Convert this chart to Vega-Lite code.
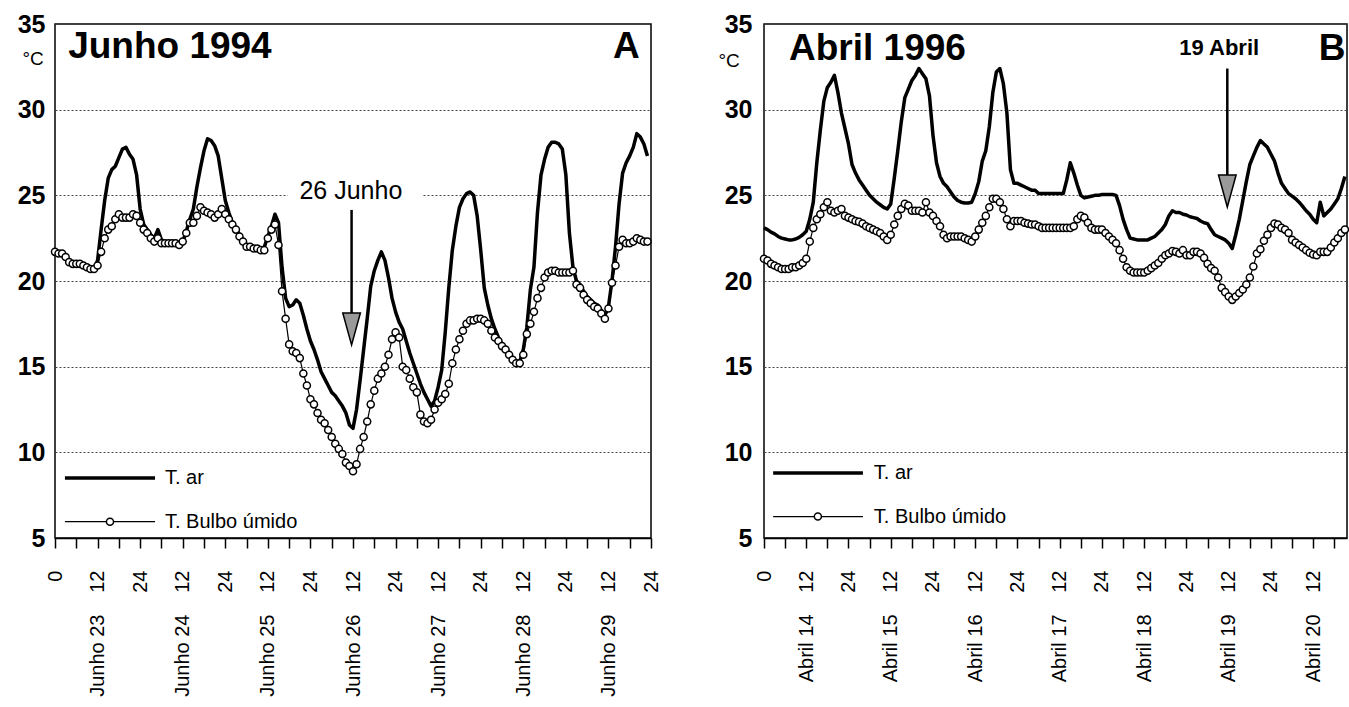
{
  "$schema": "https://vega.github.io/schema/vega-lite/v6.json",
  "padding": {"left": 10, "top": 11, "right": 0, "bottom": 0},
  "spacing": 55,
  "datasets": {
    "junho": [
      {"h":0,"ar":21.7,"bu":21.7},{"h":1,"ar":21.6,"bu":21.6},{"h":2,"ar":21.6,"bu":21.6},{"h":3,"ar":21.4,"bu":21.4},{"h":4,"ar":21.1,"bu":21.1},{"h":5,"ar":21.0,"bu":21.0},{"h":6,"ar":21.0,"bu":21.0},{"h":7,"ar":21.0,"bu":21.0},{"h":8,"ar":20.9,"bu":20.9},{"h":9,"ar":20.8,"bu":20.8},{"h":10,"ar":20.7,"bu":20.7},{"h":11,"ar":20.7,"bu":20.7},
      {"h":12,"ar":21.2,"bu":20.9},{"h":13,"ar":23.0,"bu":21.7},{"h":14,"ar":24.7,"bu":22.5},{"h":15,"ar":26.0,"bu":23.0},{"h":16,"ar":26.5,"bu":23.2},{"h":17,"ar":26.7,"bu":23.6},{"h":18,"ar":27.2,"bu":23.9},{"h":19,"ar":27.7,"bu":23.7},{"h":20,"ar":27.8,"bu":23.7},{"h":21,"ar":27.4,"bu":23.7},{"h":22,"ar":27.1,"bu":23.9},{"h":23,"ar":26.2,"bu":23.8},
      {"h":24,"ar":24.2,"bu":23.4},{"h":25,"ar":23.3,"bu":23.0},{"h":26,"ar":23.0,"bu":22.8},{"h":27,"ar":22.7,"bu":22.5},{"h":28,"ar":22.5,"bu":22.3},{"h":29,"ar":23.0,"bu":22.5},{"h":30,"ar":22.4,"bu":22.2},{"h":31,"ar":22.3,"bu":22.2},{"h":32,"ar":22.2,"bu":22.2},{"h":33,"ar":22.2,"bu":22.2},{"h":34,"ar":22.2,"bu":22.2},{"h":35,"ar":22.2,"bu":22.1},
      {"h":36,"ar":22.3,"bu":22.3},{"h":37,"ar":22.9,"bu":22.8},{"h":38,"ar":23.6,"bu":23.4},{"h":39,"ar":24.2,"bu":23.4},{"h":40,"ar":25.5,"bu":23.8},{"h":41,"ar":26.6,"bu":24.3},{"h":42,"ar":27.6,"bu":24.1},{"h":43,"ar":28.3,"bu":24.0},{"h":44,"ar":28.2,"bu":23.9},{"h":45,"ar":27.9,"bu":23.7},{"h":46,"ar":27.3,"bu":23.9},{"h":47,"ar":26.0,"bu":24.2},
      {"h":48,"ar":24.7,"bu":23.9},{"h":49,"ar":24.0,"bu":23.6},{"h":50,"ar":23.4,"bu":23.3},{"h":51,"ar":23.1,"bu":23.0},{"h":52,"ar":22.7,"bu":22.6},{"h":53,"ar":22.4,"bu":22.3},{"h":54,"ar":22.1,"bu":22.0},{"h":55,"ar":22.0,"bu":22.0},{"h":56,"ar":21.9,"bu":21.9},{"h":57,"ar":21.9,"bu":21.9},{"h":58,"ar":21.9,"bu":21.8},{"h":59,"ar":22.0,"bu":21.8},
      {"h":60,"ar":22.6,"bu":22.5},{"h":61,"ar":23.2,"bu":23.0},{"h":62,"ar":23.9,"bu":23.3},{"h":63,"ar":23.4,"bu":22.1},{"h":64,"ar":20.8,"bu":19.4},{"h":65,"ar":19.0,"bu":17.8},{"h":66,"ar":18.5,"bu":16.3},{"h":67,"ar":18.6,"bu":15.9},{"h":68,"ar":18.9,"bu":15.8},{"h":69,"ar":18.7,"bu":15.5},{"h":70,"ar":18.0,"bu":14.6},{"h":71,"ar":17.2,"bu":13.9},
      {"h":72,"ar":16.5,"bu":13.1},{"h":73,"ar":16.0,"bu":12.8},{"h":74,"ar":15.4,"bu":12.3},{"h":75,"ar":14.7,"bu":11.9},{"h":76,"ar":14.3,"bu":11.7},{"h":77,"ar":13.9,"bu":11.3},{"h":78,"ar":13.5,"bu":10.9},{"h":79,"ar":13.3,"bu":10.5},{"h":80,"ar":13.0,"bu":10.2},{"h":81,"ar":12.7,"bu":9.9},{"h":82,"ar":12.3,"bu":9.4},{"h":83,"ar":11.6,"bu":9.2},
      {"h":84,"ar":11.4,"bu":8.9},{"h":85,"ar":12.5,"bu":9.3},{"h":86,"ar":14.2,"bu":10.2},{"h":87,"ar":16.0,"bu":10.9},{"h":88,"ar":17.8,"bu":11.8},{"h":89,"ar":19.7,"bu":12.8},{"h":90,"ar":20.6,"bu":13.6},{"h":91,"ar":21.2,"bu":14.3},{"h":92,"ar":21.7,"bu":14.6},{"h":93,"ar":21.2,"bu":15.0},{"h":94,"ar":20.2,"bu":15.7},{"h":95,"ar":19.0,"bu":16.6},
      {"h":96,"ar":18.2,"bu":17.0},{"h":97,"ar":17.6,"bu":16.7},{"h":98,"ar":17.2,"bu":15.0},{"h":99,"ar":16.5,"bu":14.8},{"h":100,"ar":15.8,"bu":14.3},{"h":101,"ar":15.2,"bu":13.8},{"h":102,"ar":14.6,"bu":13.5},{"h":103,"ar":14.0,"bu":12.2},{"h":104,"ar":13.5,"bu":11.8},{"h":105,"ar":13.1,"bu":11.7},{"h":106,"ar":12.7,"bu":11.9},{"h":107,"ar":13.0,"bu":12.5},
      {"h":108,"ar":13.8,"bu":12.9},{"h":109,"ar":14.8,"bu":13.1},{"h":110,"ar":17.0,"bu":13.4},{"h":111,"ar":19.6,"bu":14.0},{"h":112,"ar":21.8,"bu":15.2},{"h":113,"ar":23.2,"bu":16.0},{"h":114,"ar":24.3,"bu":16.6},{"h":115,"ar":24.8,"bu":17.1},{"h":116,"ar":25.1,"bu":17.5},{"h":117,"ar":25.2,"bu":17.7},{"h":118,"ar":25.0,"bu":17.7},{"h":119,"ar":23.8,"bu":17.8},
      {"h":120,"ar":21.8,"bu":17.8},{"h":121,"ar":19.6,"bu":17.7},{"h":122,"ar":18.6,"bu":17.5},{"h":123,"ar":17.8,"bu":17.1},{"h":124,"ar":17.2,"bu":16.7},{"h":125,"ar":16.7,"bu":16.5},{"h":126,"ar":16.3,"bu":16.2},{"h":127,"ar":16.1,"bu":16.0},{"h":128,"ar":15.8,"bu":15.7},{"h":129,"ar":15.5,"bu":15.4},{"h":130,"ar":15.3,"bu":15.2},{"h":131,"ar":15.3,"bu":15.2},
      {"h":132,"ar":16.0,"bu":15.7},{"h":133,"ar":17.3,"bu":16.9},{"h":134,"ar":19.5,"bu":17.5},{"h":135,"ar":20.8,"bu":18.2},{"h":136,"ar":24.0,"bu":19.0},{"h":137,"ar":26.2,"bu":19.6},{"h":138,"ar":27.1,"bu":20.2},{"h":139,"ar":27.8,"bu":20.5},{"h":140,"ar":28.1,"bu":20.6},{"h":141,"ar":28.1,"bu":20.6},{"h":142,"ar":28.0,"bu":20.5},{"h":143,"ar":27.7,"bu":20.5},
      {"h":144,"ar":26.2,"bu":20.5},{"h":145,"ar":22.8,"bu":20.5},{"h":146,"ar":20.8,"bu":20.6},{"h":147,"ar":20.0,"bu":19.8},{"h":148,"ar":19.8,"bu":19.6},{"h":149,"ar":19.4,"bu":19.2},{"h":150,"ar":19.1,"bu":18.9},{"h":151,"ar":18.9,"bu":18.7},{"h":152,"ar":18.7,"bu":18.5},{"h":153,"ar":18.6,"bu":18.4},{"h":154,"ar":18.3,"bu":18.1},{"h":155,"ar":18.0,"bu":17.8},
      {"h":156,"ar":18.5,"bu":18.4},{"h":157,"ar":20.0,"bu":19.9},{"h":158,"ar":22.0,"bu":20.9},{"h":159,"ar":24.5,"bu":22.0},{"h":160,"ar":26.3,"bu":22.4},{"h":161,"ar":26.9,"bu":22.2},{"h":162,"ar":27.3,"bu":22.2},{"h":163,"ar":27.8,"bu":22.3},{"h":164,"ar":28.6,"bu":22.5},{"h":165,"ar":28.4,"bu":22.4},{"h":166,"ar":28.0,"bu":22.3},{"h":167,"ar":27.3,"bu":22.3}
    ],
    "abril": [
      {"h":0,"ar":23.1,"bu":21.3},{"h":1,"ar":23.0,"bu":21.2},{"h":2,"ar":22.85,"bu":21.0},{"h":3,"ar":22.75,"bu":20.9},{"h":4,"ar":22.6,"bu":20.8},{"h":5,"ar":22.5,"bu":20.7},{"h":6,"ar":22.45,"bu":20.7},{"h":7,"ar":22.4,"bu":20.7},{"h":8,"ar":22.4,"bu":20.8},{"h":9,"ar":22.45,"bu":20.8},{"h":10,"ar":22.55,"bu":20.9},{"h":11,"ar":22.7,"bu":21.05},
      {"h":12,"ar":22.9,"bu":21.3},{"h":13,"ar":23.6,"bu":22.3},{"h":14,"ar":24.6,"bu":23.1},{"h":15,"ar":26.9,"bu":23.6},{"h":16,"ar":28.8,"bu":23.9},{"h":17,"ar":30.5,"bu":24.3},{"h":18,"ar":31.3,"bu":24.6},{"h":19,"ar":31.6,"bu":24.1},{"h":20,"ar":32.0,"bu":24.0},{"h":21,"ar":31.0,"bu":24.1},{"h":22,"ar":29.8,"bu":24.2},{"h":23,"ar":28.9,"bu":23.8},
      {"h":24,"ar":28.0,"bu":23.7},{"h":25,"ar":26.8,"bu":23.6},{"h":26,"ar":26.3,"bu":23.5},{"h":27,"ar":25.9,"bu":23.45},{"h":28,"ar":25.6,"bu":23.35},{"h":29,"ar":25.3,"bu":23.2},{"h":30,"ar":25.0,"bu":23.1},{"h":31,"ar":24.8,"bu":23.0},{"h":32,"ar":24.6,"bu":22.9},{"h":33,"ar":24.45,"bu":22.8},{"h":34,"ar":24.3,"bu":22.6},{"h":35,"ar":24.2,"bu":22.4},
      {"h":36,"ar":24.5,"bu":22.7},{"h":37,"ar":26.0,"bu":23.3},{"h":38,"ar":27.6,"bu":23.8},{"h":39,"ar":29.3,"bu":24.2},{"h":40,"ar":30.7,"bu":24.5},{"h":41,"ar":31.2,"bu":24.4},{"h":42,"ar":31.7,"bu":24.1},{"h":43,"ar":32.0,"bu":24.1},{"h":44,"ar":32.4,"bu":24.1},{"h":45,"ar":32.1,"bu":24.0},{"h":46,"ar":31.8,"bu":24.6},{"h":47,"ar":30.8,"bu":24.0},
      {"h":48,"ar":28.5,"bu":23.8},{"h":49,"ar":26.9,"bu":23.5},{"h":50,"ar":26.1,"bu":23.2},{"h":51,"ar":25.7,"bu":22.7},{"h":52,"ar":25.5,"bu":22.5},{"h":53,"ar":25.2,"bu":22.6},{"h":54,"ar":24.9,"bu":22.6},{"h":55,"ar":24.7,"bu":22.6},{"h":56,"ar":24.6,"bu":22.6},{"h":57,"ar":24.55,"bu":22.5},{"h":58,"ar":24.55,"bu":22.4},{"h":59,"ar":24.6,"bu":22.3},
      {"h":60,"ar":25.1,"bu":22.6},{"h":61,"ar":25.8,"bu":23.0},{"h":62,"ar":27.0,"bu":23.4},{"h":63,"ar":27.6,"bu":23.8},{"h":64,"ar":29.0,"bu":24.3},{"h":65,"ar":31.0,"bu":24.8},{"h":66,"ar":32.2,"bu":24.8},{"h":67,"ar":32.4,"bu":24.6},{"h":68,"ar":31.5,"bu":24.2},{"h":69,"ar":29.8,"bu":23.6},{"h":70,"ar":26.5,"bu":23.2},{"h":71,"ar":25.7,"bu":23.5},
      {"h":72,"ar":25.7,"bu":23.5},{"h":73,"ar":25.6,"bu":23.5},{"h":74,"ar":25.5,"bu":23.4},{"h":75,"ar":25.4,"bu":23.35},{"h":76,"ar":25.3,"bu":23.3},{"h":77,"ar":25.3,"bu":23.3},{"h":78,"ar":25.1,"bu":23.2},{"h":79,"ar":25.1,"bu":23.1},{"h":80,"ar":25.1,"bu":23.1},{"h":81,"ar":25.1,"bu":23.1},{"h":82,"ar":25.1,"bu":23.1},{"h":83,"ar":25.1,"bu":23.1},
      {"h":84,"ar":25.1,"bu":23.1},{"h":85,"ar":25.1,"bu":23.1},{"h":86,"ar":25.9,"bu":23.1},{"h":87,"ar":26.9,"bu":23.1},{"h":88,"ar":26.3,"bu":23.2},{"h":89,"ar":25.6,"bu":23.6},{"h":90,"ar":25.0,"bu":23.8},{"h":91,"ar":24.85,"bu":23.7},{"h":92,"ar":24.9,"bu":23.4},{"h":93,"ar":24.95,"bu":23.1},{"h":94,"ar":25.0,"bu":23.0},{"h":95,"ar":25.0,"bu":23.0},
      {"h":96,"ar":25.05,"bu":23.0},{"h":97,"ar":25.05,"bu":22.8},{"h":98,"ar":25.05,"bu":22.6},{"h":99,"ar":25.05,"bu":22.4},{"h":100,"ar":25.0,"bu":22.2},{"h":101,"ar":24.4,"bu":21.8},{"h":102,"ar":23.6,"bu":21.3},{"h":103,"ar":23.0,"bu":20.8},{"h":104,"ar":22.5,"bu":20.6},{"h":105,"ar":22.45,"bu":20.5},{"h":106,"ar":22.4,"bu":20.5},{"h":107,"ar":22.4,"bu":20.5},
      {"h":108,"ar":22.4,"bu":20.5},{"h":109,"ar":22.4,"bu":20.6},{"h":110,"ar":22.5,"bu":20.75},{"h":111,"ar":22.6,"bu":20.9},{"h":112,"ar":22.8,"bu":21.05},{"h":113,"ar":23.0,"bu":21.3},{"h":114,"ar":23.3,"bu":21.5},{"h":115,"ar":23.8,"bu":21.6},{"h":116,"ar":24.1,"bu":21.75},{"h":117,"ar":24.0,"bu":21.7},{"h":118,"ar":24.0,"bu":21.6},{"h":119,"ar":23.9,"bu":21.8},
      {"h":120,"ar":23.85,"bu":21.5},{"h":121,"ar":23.75,"bu":21.5},{"h":122,"ar":23.7,"bu":21.7},{"h":123,"ar":23.65,"bu":21.7},{"h":124,"ar":23.5,"bu":21.6},{"h":125,"ar":23.4,"bu":21.35},{"h":126,"ar":23.35,"bu":21.0},{"h":127,"ar":23.0,"bu":20.75},{"h":128,"ar":22.7,"bu":20.6},{"h":129,"ar":22.6,"bu":20.2},{"h":130,"ar":22.5,"bu":19.6},{"h":131,"ar":22.4,"bu":19.35},
      {"h":132,"ar":22.2,"bu":19.1},{"h":133,"ar":21.9,"bu":18.9},{"h":134,"ar":22.7,"bu":19.1},{"h":135,"ar":23.6,"bu":19.3},{"h":136,"ar":24.7,"bu":19.5},{"h":137,"ar":25.8,"bu":19.8},{"h":138,"ar":26.8,"bu":20.2},{"h":139,"ar":27.3,"bu":20.85},{"h":140,"ar":27.8,"bu":21.6},{"h":141,"ar":28.2,"bu":21.85},{"h":142,"ar":28.0,"bu":22.35},{"h":143,"ar":27.8,"bu":22.7},
      {"h":144,"ar":27.4,"bu":23.1},{"h":145,"ar":27.0,"bu":23.35},{"h":146,"ar":26.3,"bu":23.3},{"h":147,"ar":25.7,"bu":23.1},{"h":148,"ar":25.4,"bu":23.0},{"h":149,"ar":25.1,"bu":22.8},{"h":150,"ar":24.95,"bu":22.4},{"h":151,"ar":24.8,"bu":22.25},{"h":152,"ar":24.6,"bu":22.1},{"h":153,"ar":24.35,"bu":21.95},{"h":154,"ar":24.1,"bu":21.8},{"h":155,"ar":23.9,"bu":21.65},
      {"h":156,"ar":23.6,"bu":21.55},{"h":157,"ar":23.4,"bu":21.5},{"h":158,"ar":24.6,"bu":21.7},{"h":159,"ar":23.8,"bu":21.7},{"h":160,"ar":24.0,"bu":21.7},{"h":161,"ar":24.2,"bu":21.95},{"h":162,"ar":24.5,"bu":22.25},{"h":163,"ar":24.8,"bu":22.5},{"h":164,"ar":25.4,"bu":22.8},{"h":165,"ar":26.1,"bu":23.0}
    ]
  },
  "hconcat": [
    {
      "width": 596,
      "height": 514,
      "resolve": {"axis": {"x": "independent"}},
      "layer": [
        {
          "data": {"name": "junho"},
          "transform": [{"fold": ["ar", "bu"], "as": ["serie", "temp"]}],
          "mark": {"type": "line", "color": "black", "strokeJoin": "round"},
          "encoding": {
            "x": {"field": "h", "type": "quantitative", "scale": {"domain": [0, 168], "nice": false, "zero": false},
              "axis": {"orient": "bottom", "values": [0,6,12,18,24,30,36,42,48,54,60,66,72,78,84,90,96,102,108,114,120,126,132,138,144,150,156,162,168],
                "labelExpr": "datum.value == 0 ? '0' : (datum.value % 24 == 0 ? '24' : (datum.value % 12 == 0 ? '12' : ''))",
                "labelAngle": -90, "labelFont": "Liberation Sans", "labelFontSize": 20, "labelColor": "black", "labelPadding": 22,
                "tickSize": 10, "tickWidth": 1.5, "tickColor": "black", "domain": true, "domainWidth": 1.5, "domainColor": "black",
                "grid": false, "title": null, "labelFlush": false, "labelOverlap": false, "labelBound": false}},
            "y": {"field": "temp", "type": "quantitative", "scale": {"domain": [5, 35], "nice": false, "zero": false},
              "axis": {"values": [5,10,15,20,25,30,35], "grid": true, "gridColor": "#444", "gridDash": [2, 2], "gridWidth": 1,
                "ticks": false, "domain": false, "labelFont": "Liberation Sans", "labelFontSize": 25, "labelFontWeight": "bold", "labelColor": "black",
                "labelPadding": 10, "labelFlush": false, "minExtent": 44, "maxExtent": 44,
                "title": "°C", "titleAngle": 0, "titleAlign": "left", "titleBaseline": "middle", "titleX": -33, "titleY": 34,
                "titleFont": "Liberation Sans", "titleFontSize": 19, "titleFontWeight": "normal", "titleColor": "black"}},
            "strokeWidth": {"field": "serie", "type": "nominal", "scale": {"domain": ["ar", "bu"], "range": [3.5, 1.2]}, "legend": null}
          }
        },
        {
          "data": {"name": "junho"},
          "transform": [{"fold": ["ar", "bu"], "as": ["serie", "temp"]}, {"filter": "datum.serie == 'bu'"}],
          "mark": {"type": "point", "shape": "circle", "filled": true, "fill": "white", "stroke": "black", "strokeWidth": 1.5, "size": 50, "opacity": 1},
          "encoding": {
            "x": {"field": "h", "type": "quantitative",
              "axis": {"orient": "bottom", "values": [12,36,60,84,108,132,156],
                "labelExpr": "'Junho ' + (23 + floor(datum.value / 24))",
                "labelAngle": -90, "labelFont": "Liberation Sans", "labelFontSize": 20, "labelColor": "black", "labelPadding": 76,
                "ticks": false, "domain": false, "grid": false, "title": null, "labelFlush": false, "labelOverlap": false, "labelBound": false}},
            "y": {"field": "temp", "type": "quantitative"}
          }
        },
        {
          "data": {"values": [{}]},
          "mark": {"type": "rect", "color": "white"},
          "encoding": {"x": {"datum": 65.6, "axis": null}, "x2": {"datum": 103.7}, "y": {"datum": 24.55}, "y2": {"datum": 25.45}}
        },
        {
          "data": {"values": [{}]},
          "mark": {"type": "text", "text": "26 Junho", "font": "Liberation Sans", "fontSize": 25, "align": "center", "baseline": "alphabetic", "color": "black"},
          "encoding": {"x": {"datum": 83.4, "axis": null}, "y": {"datum": 24.8}}
        },
        {
          "data": {"values": [{}]},
          "mark": {"type": "rule", "color": "black", "strokeWidth": 2.5},
          "encoding": {"x": {"datum": 83.6, "axis": null}, "y": {"datum": 24.15}, "y2": {"datum": 18.0}}
        },
        {
          "data": {"values": [{}]},
          "mark": {"type": "point", "shape": "M-0.55,-1L0.55,-1L0,1Z", "size": 1024, "filled": true, "fill": "#9a9a9a", "stroke": "black", "strokeWidth": 1.5, "opacity": 1},
          "encoding": {"x": {"datum": 83.6, "axis": null}, "y": {"datum": 17.2}}
        },
        {
          "data": {"values": [{}]},
          "mark": {"type": "text", "text": "Junho 1994", "font": "Liberation Sans", "fontSize": 37, "fontWeight": "bold", "align": "left", "baseline": "alphabetic", "color": "black"},
          "encoding": {"x": {"datum": 3.7, "axis": null}, "y": {"datum": 33.0}}
        },
        {
          "data": {"values": [{}]},
          "mark": {"type": "text", "text": "A", "font": "Liberation Sans", "fontSize": 37, "fontWeight": "bold", "align": "right", "baseline": "alphabetic", "color": "black"},
          "encoding": {"x": {"datum": 164.8, "axis": null}, "y": {"datum": 33.0}}
        },
        {
          "data": {"values": [{}]},
          "mark": {"type": "rule", "color": "black", "strokeWidth": 3.5},
          "encoding": {"x": {"datum": 2.8, "axis": null}, "x2": {"datum": 28.2}, "y": {"datum": 8.5}}
        },
        {
          "data": {"values": [{}]},
          "mark": {"type": "rule", "color": "black", "strokeWidth": 1.2},
          "encoding": {"x": {"datum": 2.8, "axis": null}, "x2": {"datum": 28.2}, "y": {"datum": 5.95}}
        },
        {
          "data": {"values": [{}]},
          "mark": {"type": "point", "shape": "circle", "filled": true, "fill": "white", "stroke": "black", "strokeWidth": 1.5, "size": 50, "opacity": 1},
          "encoding": {"x": {"datum": 15.5, "axis": null}, "y": {"datum": 5.95}}
        },
        {
          "data": {"values": [{}]},
          "mark": {"type": "text", "text": "T. ar", "font": "Liberation Sans", "fontSize": 20, "align": "left", "baseline": "middle", "color": "black"},
          "encoding": {"x": {"datum": 31, "axis": null}, "y": {"datum": 8.5}}
        },
        {
          "data": {"values": [{}]},
          "mark": {"type": "text", "text": "T. Bulbo úmido", "font": "Liberation Sans", "fontSize": 20, "align": "left", "baseline": "middle", "color": "black"},
          "encoding": {"x": {"datum": 31, "axis": null}, "y": {"datum": 5.95}}
        }
      ]
    },
    {
      "width": 583,
      "height": 514,
      "resolve": {"axis": {"x": "independent"}},
      "layer": [
        {
          "data": {"name": "abril"},
          "transform": [{"fold": ["ar", "bu"], "as": ["serie", "temp"]}],
          "mark": {"type": "line", "color": "black", "strokeJoin": "round"},
          "encoding": {
            "x": {"field": "h", "type": "quantitative", "scale": {"domain": [0, 165.6], "nice": false, "zero": false},
              "axis": {"orient": "bottom", "values": [0,6,12,18,24,30,36,42,48,54,60,66,72,78,84,90,96,102,108,114,120,126,132,138,144,150,156,162],
                "labelExpr": "datum.value == 0 ? '0' : (datum.value % 24 == 0 ? '24' : (datum.value % 12 == 0 ? '12' : ''))",
                "labelAngle": -90, "labelFont": "Liberation Sans", "labelFontSize": 20, "labelColor": "black", "labelPadding": 22,
                "tickSize": 10, "tickWidth": 1.5, "tickColor": "black", "domain": true, "domainWidth": 1.5, "domainColor": "black",
                "grid": false, "title": null, "labelFlush": false, "labelOverlap": false, "labelBound": false}},
            "y": {"field": "temp", "type": "quantitative", "scale": {"domain": [5, 35], "nice": false, "zero": false},
              "axis": {"values": [5,10,15,20,25,30,35], "grid": true, "gridColor": "#444", "gridDash": [2, 2], "gridWidth": 1,
                "ticks": false, "domain": false, "labelFont": "Liberation Sans", "labelFontSize": 25, "labelFontWeight": "bold", "labelColor": "black",
                "labelPadding": 12, "labelFlush": false, "minExtent": 46, "maxExtent": 46,
                "title": "°C", "titleAngle": 0, "titleAlign": "left", "titleBaseline": "middle", "titleX": -46, "titleY": 36,
                "titleFont": "Liberation Sans", "titleFontSize": 19, "titleFontWeight": "normal", "titleColor": "black"}},
            "strokeWidth": {"field": "serie", "type": "nominal", "scale": {"domain": ["ar", "bu"], "range": [3.5, 1.2]}, "legend": null}
          }
        },
        {
          "data": {"name": "abril"},
          "transform": [{"fold": ["ar", "bu"], "as": ["serie", "temp"]}, {"filter": "datum.serie == 'bu'"}],
          "mark": {"type": "point", "shape": "circle", "filled": true, "fill": "white", "stroke": "black", "strokeWidth": 1.5, "size": 50, "opacity": 1},
          "encoding": {
            "x": {"field": "h", "type": "quantitative",
              "axis": {"orient": "bottom", "values": [12,36,60,84,108,132,156],
                "labelExpr": "'Abril ' + (14 + floor(datum.value / 24))",
                "labelAngle": -90, "labelFont": "Liberation Sans", "labelFontSize": 20, "labelColor": "black", "labelPadding": 76,
                "ticks": false, "domain": false, "grid": false, "title": null, "labelFlush": false, "labelOverlap": false, "labelBound": false}},
            "y": {"field": "temp", "type": "quantitative"}
          }
        },
        {
          "data": {"values": [{}]},
          "mark": {"type": "text", "text": "19 Abril", "font": "Liberation Sans", "fontSize": 22, "fontWeight": "bold", "align": "center", "baseline": "alphabetic", "color": "black"},
          "encoding": {"x": {"datum": 129.3, "axis": null}, "y": {"datum": 33.2}}
        },
        {
          "data": {"values": [{}]},
          "mark": {"type": "rule", "color": "black", "strokeWidth": 2.5},
          "encoding": {"x": {"datum": 131.6, "axis": null}, "y": {"datum": 32.4}, "y2": {"datum": 26.0}}
        },
        {
          "data": {"values": [{}]},
          "mark": {"type": "point", "shape": "M-0.55,-1L0.55,-1L0,1Z", "size": 1024, "filled": true, "fill": "#9a9a9a", "stroke": "black", "strokeWidth": 1.5, "opacity": 1},
          "encoding": {"x": {"datum": 131.6, "axis": null}, "y": {"datum": 25.25}}
        },
        {
          "data": {"values": [{}]},
          "mark": {"type": "text", "text": "Abril 1996", "font": "Liberation Sans", "fontSize": 37, "fontWeight": "bold", "align": "left", "baseline": "alphabetic", "color": "black"},
          "encoding": {"x": {"datum": 7.1, "axis": null}, "y": {"datum": 32.9}}
        },
        {
          "data": {"values": [{}]},
          "mark": {"type": "text", "text": "B", "font": "Liberation Sans", "fontSize": 37, "fontWeight": "bold", "align": "left", "baseline": "alphabetic", "color": "black"},
          "encoding": {"x": {"datum": 157.6, "axis": null}, "y": {"datum": 32.9}}
        },
        {
          "data": {"values": [{}]},
          "mark": {"type": "rule", "color": "black", "strokeWidth": 3.5},
          "encoding": {"x": {"datum": 2.6, "axis": null}, "x2": {"datum": 28.1}, "y": {"datum": 8.8}}
        },
        {
          "data": {"values": [{}]},
          "mark": {"type": "rule", "color": "black", "strokeWidth": 1.2},
          "encoding": {"x": {"datum": 2.6, "axis": null}, "x2": {"datum": 28.1}, "y": {"datum": 6.25}}
        },
        {
          "data": {"values": [{}]},
          "mark": {"type": "point", "shape": "circle", "filled": true, "fill": "white", "stroke": "black", "strokeWidth": 1.5, "size": 50, "opacity": 1},
          "encoding": {"x": {"datum": 15.3, "axis": null}, "y": {"datum": 6.25}}
        },
        {
          "data": {"values": [{}]},
          "mark": {"type": "text", "text": "T. ar", "font": "Liberation Sans", "fontSize": 20, "align": "left", "baseline": "middle", "color": "black"},
          "encoding": {"x": {"datum": 31.2, "axis": null}, "y": {"datum": 8.8}}
        },
        {
          "data": {"values": [{}]},
          "mark": {"type": "text", "text": "T. Bulbo úmido", "font": "Liberation Sans", "fontSize": 20, "align": "left", "baseline": "middle", "color": "black"},
          "encoding": {"x": {"datum": 31.2, "axis": null}, "y": {"datum": 6.25}}
        }
      ]
    }
  ],
  "config": {
    "view": {"stroke": "black", "strokeWidth": 1.5},
    "background": "white"
  }
}
